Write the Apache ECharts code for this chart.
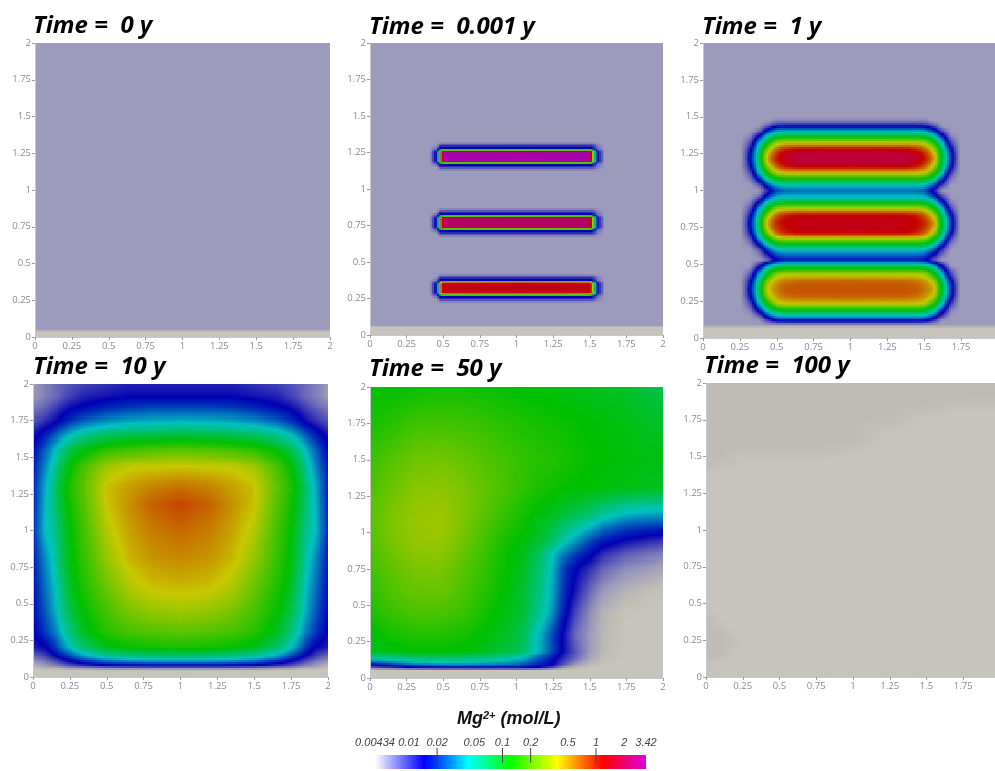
<!DOCTYPE html>
<html><head><meta charset="utf-8">
<style>html,body{margin:0;padding:0;background:#fff;overflow:hidden}#c{width:995px;height:771px;filter:blur(0.55px)}</style>
<script src="https://cdn.jsdelivr.net/npm/echarts@6/dist/echarts.min.js"></script>
</head><body><div id="c"></div>
<script>
// All grid values are Mg2+ in mmol/L. Rows run top (y=2) to bottom (y=0).
const timeLabels = ['Time =  0 y','Time =  0.001 y','Time =  1 y','Time =  10 y','Time =  50 y','Time =  100 y'];
const barTickLabels = ['0.00434','0.01','0.02','0.05','0.1','0.2','0.5','1','2','3.42'];
const barTickValues = [0.00434,0.01,0.02,0.05,0.1,0.2,0.5,1,2,3.42];
const barMarkValues = [0.02,0.1,0.2,1];
const plotStops = [[4.34,[199,196,189]],[4.7,[191,188,182]],[6,[157,155,187]],[14.5,[0,0,178]],[20,[0,45,185]],[43,[0,195,190]],[120,[0,192,0]],[380,[200,200,0]],[1180,[197,0,0]],[3420,[170,0,170]]];
const barStops = [[4.34,'#ffffff'],[14.5,'#0000ff'],[20,'#0040ff'],[43,'#00ffff'],[120,'#00ff00'],[380,'#ffff00'],[1180,'#ff0000'],[3420,'#e000e0']];

// Time = 0 y
const xs1 = [0,2];
const ys1 = [2,0.045,0.035,0];
const grid1 = [[6,6],[6,6],[4,4],[4,4]];

// Time = 0.001 y
const xs2 = [0,.41,.455,.47,.48,.49,.5,1,1.5,1.515,1.53,1.55,1.6,2];
const ys2 = [2,1.323,1.298,1.276,1.268,1.263,1.258,1.253,1.193,1.188,1.183,1.178,1.17,1.148,1.123,
  .87,.845,.823,.815,.81,.805,.8,.74,.735,.73,.725,.717,.695,.67,
  .42,.395,.373,.365,.36,.355,.35,.29,.285,.28,.275,.267,.245,.22,.065,.055,0];
const r2bg  = [6,6,6,6,6,6,6,6,6,6,6,6,6,6];
const r2gr  = [4,4,4,4,4,4,4,4,4,4,4,4,4,4];
const r2fd  = [6,6,6,8,10,10,10,10,10,10,9,7,6,6];
const r2bl  = [6,6,8,14,16,17,17,17,17,15,12,8,6,6];
const r2gn  = [6,6,10,32,70,95,110,110,110,70,35,10,6,6];
const r2yl  = [6,6,12,55,180,300,360,380,360,250,70,12,6,6];
const r2rd  = [6,6,13,70,300,800,1000,1100,1000,500,90,13,6,6];
const r2top = [6,6,15,90,400,1100,3400,3400,3400,700,110,15,6,6];
const r2mid = [6,6,15,90,400,1100,2200,2200,2200,700,110,15,6,6];
const r2bot = [6,6,15,90,400,1000,1300,1300,1300,700,110,15,6,6];
const grid2 = [r2bg,
  r2bg,r2fd,r2bl,r2gn,r2yl,r2rd,r2top,r2top,r2rd,r2yl,r2gn,r2bl,r2fd,r2bg,
  r2bg,r2fd,r2bl,r2gn,r2yl,r2rd,r2mid,r2mid,r2rd,r2yl,r2gn,r2bl,r2fd,r2bg,
  r2bg,r2fd,r2bl,r2gn,r2yl,r2rd,r2bot,r2bot,r2rd,r2yl,r2gn,r2bl,r2fd,r2bg,
  r2bg,r2gr,r2gr];

// Time = 1 y
const xs3 = [0,.26,.32,.38,.44,.5,.56,.64,1,1.36,1.44,1.5,1.56,1.62,1.68,1.74,2];
const ys3 = [2,1.5,1.47,1.435,1.4,1.36,1.32,1.28,1.25,1.22,1.19,1.16,1.12,1.08,1.04,1,.955,.915,.875,.835,.805,.775,.745,.715,.675,.635,.595,.525,.49,.46,.43,.39,.36,.33,.3,.27,.23,.19,.15,.115,.09,.06,0];
const r3bg = [6,6,6,6,6,6,6,6,6,6,6,6,6,6,6,6,6];
const r3gr = [4,4,4,4,4,4,4,4,4,4,4,4,4,4,4,4,4];
const r3a  = [6,6,6,6,6,7,7,7,7,7,7,7,6,6,6,6,6];
const r3b  = [6,6,6,6,9,14,15,15,15,15,15,14,10,6,6,6,6];
const r3c  = [6,6,6,8,21,40,43,43,43,43,43,41,24,10,6,6,6];
const r3d  = [6,6,7,18,57,108,120,120,120,120,120,115,65,22,7,6,6];
const r3e  = [6,6,9,38,130,320,380,380,380,380,380,350,155,48,10,6,6];
const r3f  = [6,6,12,62,265,700,1000,1180,1200,1180,1020,720,340,78,15,6,6];
const r3g  = [6,6,14,76,420,950,1350,1650,1700,1650,1400,1000,480,98,19,6,6];
const r3h  = [6,6,15,82,480,1100,1500,1720,1750,1720,1550,1150,560,105,20,6,6];
const r3s1 = [6,6,6,6,11,22,26,27,27,27,27,25,13,6,6,6,6];
const r3m3 = [6,6,14,76,420,900,1150,1280,1300,1280,1150,900,480,98,19,6,6];
const r3m0 = [6,6,15,82,480,1000,1200,1350,1380,1350,1200,1000,560,105,20,6,6];
const r3s2 = [6,6,6,6,8,15,18,18,18,18,18,16,9,6,6,6,6];
const r3p  = [6,6,6,12,36,65,72,72,72,72,72,68,42,14,6,6,6];
const r3q  = [6,6,7,22,70,140,160,160,160,160,160,150,82,27,8,6,6];
const r3b6 = [6,6,12,62,250,470,580,620,640,620,580,490,300,78,15,6,6];
const r3b3 = [6,6,14,76,340,560,680,720,720,720,680,580,420,98,19,6,6];
const r3b0 = [6,6,15,82,380,600,720,740,740,740,720,620,480,105,20,6,6];
const grid3 = [r3bg,r3bg,r3a,r3b,r3c,r3d,r3e,r3f,r3g,r3h,r3g,r3f,r3e,r3d,r3c,r3s1,
  r3c,r3d,r3e,r3f,r3m3,r3m0,r3m3,r3f,r3e,r3d,r3c,r3s2,
  r3p,r3q,r3e,r3b6,r3b3,r3b0,r3b3,r3b6,r3e,r3d,r3c,r3b,r3bg,r3gr,r3gr];

// Time = 10 y
const xs4 = [0,.08,.16,.25,.35,.5,.65,.8,1,1.2,1.35,1.5,1.65,1.75,1.84,1.92,2];
const ys4 = [2,1.92,1.85,1.75,1.65,1.55,1.43,1.3,1.18,1,.8,.6,.45,.3,.2,.14,.1,.075,.06,.04,0];
const grid4 = [
 [6,7,8,9,10,11,12,12,12,12,12,11,10,9,8,7,6],
 [6,7,8,10,12,13,14,14,14,14,14,13,12,10,8,7,6],
 [7,8,10,13,15,18,20,21,21,21,20,18,15,13,10,8,7],
 [9,11,14,20,26,32,36,38,39,38,36,32,26,20,14,11,9],
 [13,18,27,42,58,75,83,88,90,88,83,75,58,42,27,18,13],
 [16,26,45,80,115,155,175,190,200,190,175,155,115,80,45,26,16],
 [18,32,62,120,190,310,370,385,400,385,370,310,190,120,62,32,18],
 [19,38,75,140,210,400,480,560,620,560,480,400,210,140,75,38,19],
 [19,40,72,130,200,390,520,680,800,680,520,400,200,130,72,40,19],
 [20,42,62,115,180,340,470,580,650,580,470,340,180,115,62,42,20],
 [18,32,55,110,165,280,420,500,540,500,420,280,165,110,55,32,18],
 [17,28,46,95,145,220,320,390,410,390,320,220,145,95,46,28,17],
 [16,25,42,80,125,180,240,280,300,280,240,180,125,80,42,25,16],
 [14,21,32,60,105,150,175,190,200,190,175,150,105,60,32,21,14],
 [12,14,22,42,70,105,120,130,135,130,120,105,70,42,22,14,12],
 [8,10,15,23,38,55,65,68,70,68,65,55,38,23,15,10,8],
 [6,7,9,13,18,25,28,30,30,30,28,25,18,13,9,7,6],
 [5,6,7,9,11,13,14,15,15,15,14,13,11,9,7,6,5],
 [4.5,5,5,6,6,7,7,7,7,7,7,7,6,6,5,5,4.5],
 [4,4,4,4,4,4,4,4,4,4,4,4,4,4,4,4,4],
 [4,4,4,4,4,4,4,4,4,4,4,4,4,4,4,4,4]];

// Time = 50 y
const xs5 = [0,.15,.3,.48,.65,.8,.95,1.05,1.15,1.25,1.32,1.4,1.5,1.6,1.75,1.9,2];
const ys5 = [2,1.75,1.5,1.3,1.15,1.05,.95,.85,.75,.6,.45,.3,.18,.13,.09,.07,.055,0];
const grid5 = [
 [125,120,125,130,130,125,120,115,112,110,108,106,104,100,95,85,80],
 [135,150,170,175,170,160,148,140,135,130,126,122,118,115,108,100,95],
 [165,195,225,235,215,190,170,160,150,145,138,130,122,118,115,110,108],
 [185,220,260,270,240,205,175,155,140,128,122,118,115,112,108,102,98],
 [195,240,280,295,245,195,155,135,120,105,95,85,75,60,46,43,42],
 [195,245,285,300,240,185,145,125,105,85,70,58,45,32,25,23,22],
 [190,240,280,290,225,170,130,115,95,72,50,36,24,18,14,12,11],
 [180,225,265,270,210,160,122,105,75,42,30,22,16,11,8.5,7.5,7],
 [170,205,240,245,195,155,118,100,70,38,22,15,11,8,6.5,6,5.5],
 [155,190,215,220,185,145,112,92,62,36,21,13,8,6,5,4.6,4.4],
 [140,165,185,185,165,130,105,90,58,32,18,10,6.5,5,4.4,4.3,4.3],
 [115,135,145,145,135,115,95,78,42,22,14,8,6,4.8,4.3,4.3,4.3],
 [100,110,120,120,115,100,85,70,40,22,14,9,6,4.8,4.3,4.3,4.3],
 [43,50,58,60,58,52,45,36,24,16,11,8,5.5,4.6,4.3,4.3,4.3],
 [15,20,28,32,32,30,28,24,19,14,9,6,4.8,4.4,4.3,4.3,4.3],
 [8,10,13,15,15,15,15,15,13,9,6,5,4.4,4.3,4.3,4.3,4.3],
 [4.3,4.3,4.3,4.3,4.3,4.3,4.3,4.3,4.3,4.3,4.3,4.3,4.3,4.3,4.3,4.3,4.3],
 [4,4,4,4,4,4,4,4,4,4,4,4,4,4,4,4,4]];

// Time = 100 y
const xs6 = [0,.1,.2,.25,.5,.75,1,1.25,1.5,1.75,2];
const ys6 = [2,1.9,1.85,1.8,1.75,1.7,1.65,1.6,1.55,1.5,1.45,1.4,1.35,.5,.45,.4,.35,.3,.25,.2,.15,.1,0];
const grid6 = [
 [4.7,4.7,4.7,4.7,4.7,4.7,4.7,4.7,4.7,4.7,4.7],
 [4.7,4.7,4.7,4.7,4.7,4.7,4.7,4.7,4.7,4.7,4.7],
 [4.7,4.7,4.7,4.7,4.7,4.7,4.7,4.7,4.7,4.5,4.5],
 [4.7,4.7,4.7,4.7,4.7,4.7,4.7,4.7,4.5,4.3,4.3],
 [4.7,4.7,4.7,4.7,4.7,4.7,4.7,4.7,4.3,4.3,4.3],
 [4.7,4.7,4.7,4.7,4.7,4.7,4.7,4.5,4.3,4.3,4.3],
 [4.7,4.7,4.7,4.7,4.7,4.7,4.7,4.3,4.3,4.3,4.3],
 [4.7,4.7,4.7,4.7,4.7,4.7,4.7,4.3,4.3,4.3,4.3],
 [4.7,4.7,4.7,4.7,4.7,4.7,4.5,4.3,4.3,4.3,4.3],
 [4.7,4.7,4.5,4.5,4.5,4.5,4.3,4.3,4.3,4.3,4.3],
 [4.7,4.5,4.5,4.3,4.3,4.3,4.3,4.3,4.3,4.3,4.3],
 [4.5,4.3,4.3,4.3,4.3,4.3,4.3,4.3,4.3,4.3,4.3],
 [4.3,4.3,4.3,4.3,4.3,4.3,4.3,4.3,4.3,4.3,4.3],
 [4.3,4.3,4.3,4.3,4.3,4.3,4.3,4.3,4.3,4.3,4.3],
 [4.5,4.3,4.3,4.3,4.3,4.3,4.3,4.3,4.3,4.3,4.3],
 [4.7,4.3,4.3,4.3,4.3,4.3,4.3,4.3,4.3,4.3,4.3],
 [4.7,4.5,4.3,4.3,4.3,4.3,4.3,4.3,4.3,4.3,4.3],
 [4.7,4.7,4.3,4.3,4.3,4.3,4.3,4.3,4.3,4.3,4.3],
 [4.7,4.7,4.5,4.3,4.3,4.3,4.3,4.3,4.3,4.3,4.3],
 [4.7,4.7,4.5,4.3,4.3,4.3,4.3,4.3,4.3,4.3,4.3],
 [4.7,4.7,4.3,4.3,4.3,4.3,4.3,4.3,4.3,4.3,4.3],
 [4.5,4.3,4.3,4.3,4.3,4.3,4.3,4.3,4.3,4.3,4.3],
 [4.3,4.3,4.3,4.3,4.3,4.3,4.3,4.3,4.3,4.3,4.3]];

const panels = [
 {xs:xs1,ys:ys1,m:grid1,box:[35,43,295,294],title:[33,14]},
 {xs:xs2,ys:ys2,m:grid2,box:[370,43,293,292],title:[369,15]},
 {xs:xs3,ys:ys3,m:grid3,box:[703,43,295,295],title:[702,15]},
 {xs:xs4,ys:ys4,m:grid4,box:[33,384,295,293],title:[33,355]},
 {xs:xs5,ys:ys5,m:grid5,box:[370,387,293,291],title:[369,357]},
 {xs:xs6,ys:ys6,m:grid6,box:[706,383,294,294],title:[704,354]}
];

function colorOf(v){
  if(v<=plotStops[0][0]) return plotStops[0][1];
  for(let i=1;i<plotStops.length;i++){
    if(v<=plotStops[i][0]){
      const a=plotStops[i-1],b=plotStops[i];
      const t=Math.log(v/a[0])/Math.log(b[0]/a[0]);
      return [0,1,2].map(k=>a[1][k]+(b[1][k]-a[1][k])*t);
    }
  }
  return plotStops[plotStops.length-1][1];
}
const css=c=>`rgb(${Math.round(c[0])},${Math.round(c[1])},${Math.round(c[2])})`;
const SUB=2.2;
// each grid node is one datum; a cell is shaded between its four corner nodes, as the source renderer does
function cellItem(params,api){
  const p0=api.coord([api.value(0),api.value(1)]), p1=api.coord([api.value(2),api.value(3)]);
  const v=[api.value(4),api.value(5),api.value(6),api.value(7)]; // top-left, top-right, bottom-left, bottom-right
  const x0=p0[0],y0=p0[1],x1=p1[0],y1=p1[1];
  if(v[0]===v[1]&&v[0]===v[2]&&v[0]===v[3]){
    const xa=Math.round(x0),ya=Math.round(y0);
    return {type:'rect',shape:{x:xa,y:ya,width:Math.round(x1)-xa,height:Math.round(y1)-ya},style:{fill:css(colorOf(v[0]))},silent:true};
  }
  const nx=Math.max(1,Math.ceil((x1-x0)/SUB)), ny=Math.max(1,Math.ceil((y1-y0)/SUB));
  const l=v.map(Math.log), kids=[];
  for(let j=0;j<ny;j++){
    const ya=Math.round(y0+(y1-y0)*j/ny), yb=Math.round(y0+(y1-y0)*(j+1)/ny);
    if(yb<=ya) continue;
    const ty=(j+.5)/ny;
    for(let i=0;i<nx;i++){
      const xa=Math.round(x0+(x1-x0)*i/nx), xb=Math.round(x0+(x1-x0)*(i+1)/nx);
      if(xb<=xa) continue;
      const tx=(i+.5)/nx;
      const lv=(l[0]*(1-tx)+l[1]*tx)*(1-ty)+(l[2]*(1-tx)+l[3]*tx)*ty;
      kids.push({type:'rect',shape:{x:xa,y:ya,width:xb-xa,height:yb-ya},style:{fill:css(colorOf(Math.exp(lv)))},silent:true});
    }
  }
  return {type:'group',children:kids,silent:true};
}
function cellsOf(P){
  const d=[];
  for(let r=0;r+1<P.ys.length;r++) for(let c=0;c+1<P.xs.length;c++)
    d.push([P.xs[c],P.ys[r],P.xs[c+1],P.ys[r+1],P.m[r][c],P.m[r][c+1],P.m[r+1][c],P.m[r+1][c+1]]);
  return d;
}
const axisGray='#8a8a98';
const grid=[],xAxis=[],yAxis=[],series=[],title=[];
panels.forEach((P,i)=>{
  grid.push({left:P.box[0],top:P.box[1],width:P.box[2],height:P.box[3],outerBoundsMode:'none',containLabel:false});
  const common={type:'value',min:0,max:2,interval:.25,gridIndex:i,splitLine:{show:false},
    axisLine:{show:true,lineStyle:{color:'#c8c8cc',width:1}},
    axisTick:{show:true,length:3,lineStyle:{color:'#9a9aa4'}},
    axisLabel:{color:axisGray,fontFamily:'Open Sans',fontSize:9.5,margin:4,hideOverlap:false,showMinLabel:true,showMaxLabel:true},z:5};
  xAxis.push(Object.assign({},common,{position:'bottom'}));
  yAxis.push(Object.assign({},common,{position:'left'}));
  series.push({type:'custom',name:timeLabels[i],xAxisIndex:i,yAxisIndex:i,coordinateSystem:'cartesian2d',clip:true,silent:true,
    renderItem:cellItem,data:cellsOf(P),encode:{x:[0,2],y:[1,3]},animation:false,progressive:0,z:2});
  title.push({text:timeLabels[i],left:P.title[0],top:P.title[1],padding:0,
    textStyle:{fontFamily:'Open Sans',fontStyle:'italic',fontWeight:'bold',fontSize:24,color:'#000'}});
});
// colour bar
const lg=Math.log10;
grid.push({left:375,top:755,width:271,height:14,outerBoundsMode:'none'});
xAxis.push({type:'value',gridIndex:6,position:'top',min:lg(barTickValues[0]),max:lg(barTickValues[9]),splitLine:{show:false},
  axisLine:{show:false},axisTick:{show:false},
  axisLabel:{show:true,customValues:barTickValues.map(lg),margin:7,color:'#444',fontStyle:'italic',fontFamily:'Liberation Sans',fontSize:11,hideOverlap:false,
    formatter:(v)=>{let b=0;barTickValues.forEach((t,k)=>{if(Math.abs(lg(t)-v)<Math.abs(lg(barTickValues[b])-v))b=k;});return barTickLabels[b];}}});
yAxis.push({type:'value',gridIndex:6,min:0,max:1,show:false});
const barData=[];
for(let i=0;i+1<barStops.length;i++) barData.push([lg(barStops[i][0]/1000),lg(barStops[i+1][0]/1000),i]);
series.push({type:'custom',name:'colour bar',xAxisIndex:6,yAxisIndex:6,silent:true,animation:false,data:barData,encode:{x:[0,1]},z:3,
  renderItem:(p,api)=>{
    const a=api.coord([api.value(0),1]),b=api.coord([api.value(1),0]),k=api.value(2);
    return {type:'rect',shape:{x:Math.round(a[0]),y:a[1],width:Math.round(b[0])-Math.round(a[0]),height:b[1]-a[1]},
      style:{fill:new echarts.graphic.LinearGradient(0,0,1,0,[{offset:0,color:barStops[k][1]},{offset:1,color:barStops[k+1][1]}])}};
  }});
series.push({type:'custom',name:'colour bar ticks',xAxisIndex:6,yAxisIndex:6,silent:true,animation:false,clip:false,data:barMarkValues.map(v=>[lg(v)]),encode:{x:0},z:4,
  renderItem:(p,api)=>{
    const a=api.coord([api.value(0),1.5]),b=api.coord([api.value(0),.45]);
    return {type:'line',shape:{x1:a[0],y1:a[1],x2:b[0],y2:b[1]},style:{stroke:'#444',lineWidth:1}};
  }});
title.push({text:'{a|Mg}{s|2+}{a| (mol/L)}',left:457,top:710,padding:0,textStyle:{rich:{
  a:{fontFamily:'Liberation Sans',fontStyle:'italic',fontWeight:'bold',fontSize:18,color:'#111'},
  s:{fontFamily:'Liberation Sans',fontStyle:'italic',fontWeight:'bold',fontSize:11,color:'#111',verticalAlign:'top',padding:[0,0,6,0]}}}});
const chart=echarts.init(document.getElementById('c'),null,{renderer:'canvas',width:995,height:771});
chart.setOption({animation:false,backgroundColor:'#fff',title,grid,xAxis,yAxis,series,tooltip:{show:false}});
</script></body></html>
